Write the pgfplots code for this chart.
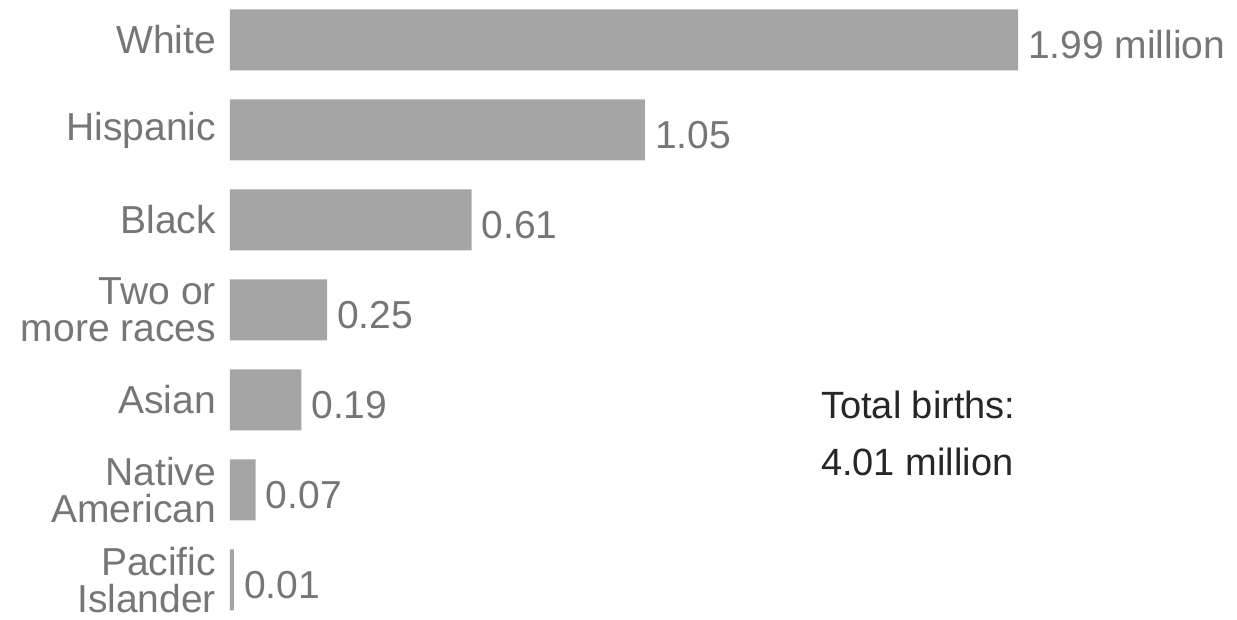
\documentclass[border=0pt]{standalone}
\usepackage{pgfplots}
\pgfplotsset{compat=1.18}
\usepackage{fontspec}
\setmainfont{Liberation Sans}
\definecolor{barc}{RGB}{165,165,165}
\definecolor{lab}{RGB}{118,118,118}
\definecolor{dark}{RGB}{38,38,38}
\begin{document}
\begin{tikzpicture}
\useasboundingbox (0pt,0pt) rectangle (618.5pt,310pt);
\begin{axis}[
  at={(115pt,0pt)}, anchor=south west, scale only axis,
  width=503.5pt, height=310pt,
  xmin=0, xmax=2.543, ymin=-0.445, ymax=6.444,
  axis line style={draw=none},
  xtick=\empty,
  ytick={0,1,2,3,4,5,6},
  yticklabels={{Pacific\\Islander},{Native\\American},Asian,{Two or\\more races},Black,Hispanic,White},
  major tick length=0pt,
  tick style={draw=none},
  yticklabel style={align=right, text=lab, font=\fontsize{19.5}{18.5}\selectfont, xshift=-3.5pt, inner ysep=0pt},
  xbar, bar width=30.5pt,
  nodes near coords,
  point meta=explicit symbolic,
  every node near coord/.append style={anchor=west, text=lab, font=\fontsize{19.5}{21}\selectfont, xshift=1.5pt, yshift=-2.5pt},
  clip=false,
]
\addplot[fill=barc, draw=none] coordinates {
  (0.01,0) [0.01]
  (0.065,1) [0.07]
  (0.18,2) [0.19]
  (0.245,3) [0.25]
  (0.61,4) [0.61]
  (1.048,5) [1.05]
  (1.99,6) [1.99 million]
};
\node[anchor=west, text=dark, font=\fontsize{19}{21}\selectfont] at (axis cs:1.475,1.944) {Total births:};
\node[anchor=west, text=dark, font=\fontsize{19}{21}\selectfont] at (axis cs:1.475,1.31) {4.01 million};
\end{axis}
\end{tikzpicture}
\end{document}
